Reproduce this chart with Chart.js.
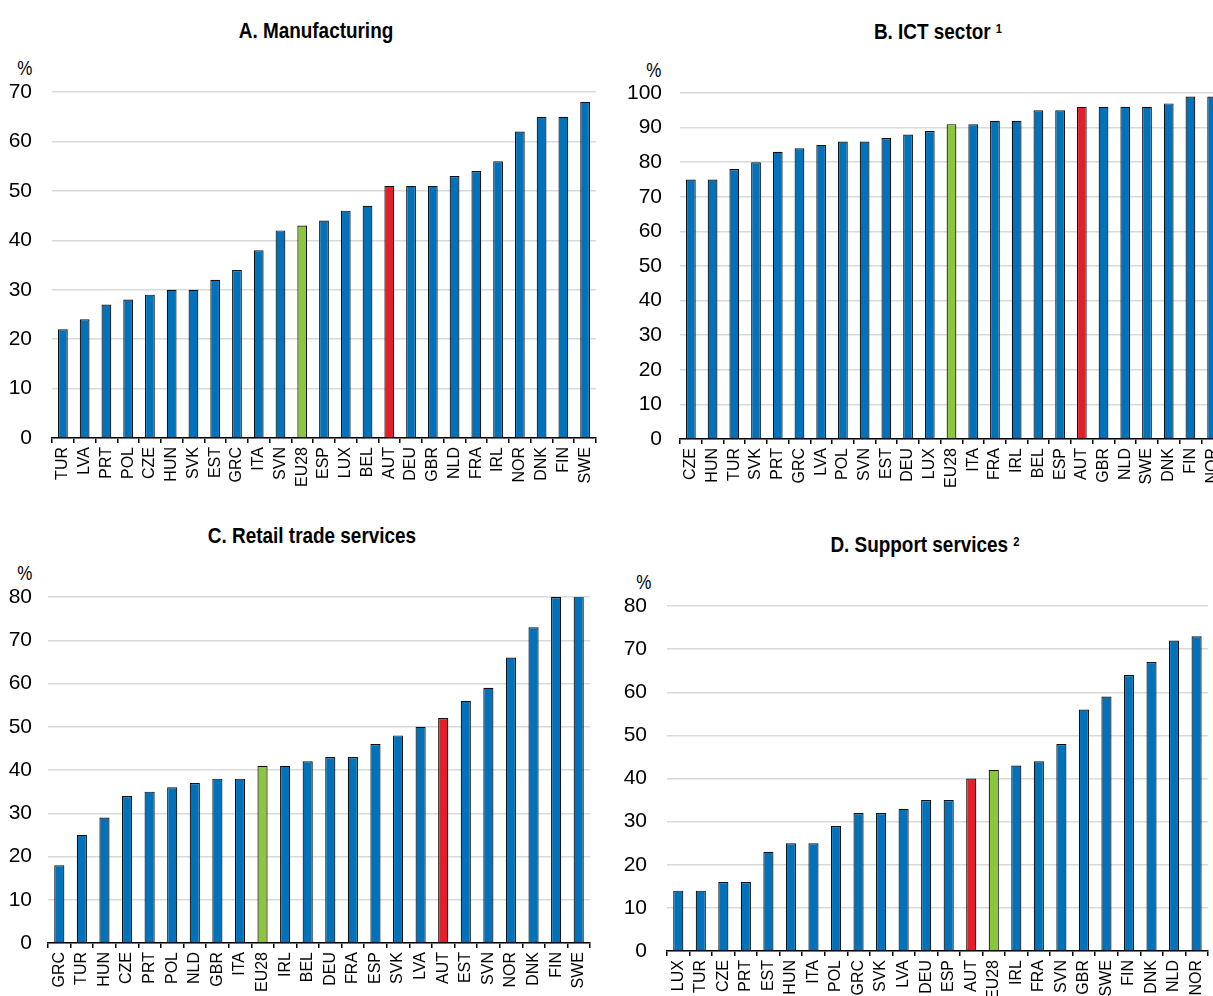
<!DOCTYPE html>
<html>
<head>
<meta charset="utf-8">
<script src="https://cdn.jsdelivr.net/npm/chart.js@4"></script>
<style>
  html, body { margin: 0; padding: 0; background: #fff; }
  body { width: 1213px; height: 996px; overflow: hidden; position: relative; }
  canvas { position: absolute; }
  .title { position: absolute; font-family: "Liberation Sans Narrow", "Liberation Sans", sans-serif; font-weight: bold; font-size: 22px; color: #000; text-align: center; width: 400px; line-height: 24px; white-space: nowrap; transform: scaleX(0.86); }
  .unit { position: absolute; font-family: "Liberation Sans", sans-serif; font-size: 20px; color: #000; line-height: 20px; transform: scaleX(0.85); }
  sup { font-size: 13px; position: relative; top: -6px; vertical-align: baseline; }
</style>
</head>
<body>
<div class="title" style="left:116px; top:19px;">A. Manufacturing</div>
<div class="title" style="left:738px; top:20px;">B. ICT sector <sup>1</sup></div>
<div class="title" style="left:112px; top:524px;">C. Retail trade services</div>
<div class="title" style="left:725px; top:533px;">D. Support services <sup>2</sup></div>
<div class="unit" style="left:16px; top:58px;">%</div>
<div class="unit" style="left:645px; top:60px;">%</div>
<div class="unit" style="left:16px; top:563px;">%</div>
<div class="unit" style="left:635px; top:572px;">%</div>

<canvas id="chartA" width="610" height="500" style="left:0; top:0;"></canvas>
<canvas id="chartB" width="640" height="500" style="left:610px; top:0;"></canvas>
<canvas id="chartC" width="610" height="520" style="left:0; top:500px;"></canvas>
<canvas id="chartD" width="610" height="520" style="left:610px; top:500px;"></canvas>

<script>
// Panel A. Manufacturing
const manufCountries = ['TUR','LVA','PRT','POL','CZE','HUN','SVK','EST','GRC','ITA','SVN','EU28','ESP','LUX','BEL','AUT','DEU','GBR','NLD','FRA','IRL','NOR','DNK','FIN','SWE'];
const manufValues = [22, 24, 27, 28, 29, 30, 30, 32, 34, 38, 42, 43, 44, 46, 47, 51, 51, 51, 53, 54, 56, 62, 65, 65, 68];
const manufTicks = [0, 10, 20, 30, 40, 50, 60, 70];

// Panel B. ICT sector
const ictCountries = ['CZE','HUN','TUR','SVK','PRT','GRC','LVA','POL','SVN','EST','DEU','LUX','EU28','ITA','FRA','IRL','BEL','ESP','AUT','GBR','NLD','SWE','DNK','FIN','NOR'];
const ictValues = [75, 75, 78, 80, 83, 84, 85, 86, 86, 87, 88, 89, 91, 91, 92, 92, 95, 95, 96, 96, 96, 96, 97, 99, 99];
const ictTicks = [0, 10, 20, 30, 40, 50, 60, 70, 80, 90, 100];

// Panel C. Retail trade services
const retailCountries = ['GRC','TUR','HUN','CZE','PRT','POL','NLD','GBR','ITA','EU28','IRL','BEL','DEU','FRA','ESP','SVK','LVA','AUT','EST','SVN','NOR','DNK','FIN','SWE'];
const retailValues = [18, 25, 29, 34, 35, 36, 37, 38, 38, 41, 41, 42, 43, 43, 46, 48, 50, 52, 56, 59, 66, 73, 80, 82];
const retailTicks = [0, 10, 20, 30, 40, 50, 60, 70, 80];

// Panel D. Support services
const supportCountries = ['LUX','TUR','CZE','PRT','EST','HUN','ITA','POL','GRC','SVK','LVA','DEU','ESP','AUT','EU28','IRL','FRA','SVN','GBR','SWE','FIN','DNK','NLD','NOR'];
const supportValues = [14, 14, 16, 16, 23, 25, 25, 29, 32, 32, 33, 35, 35, 40, 42, 43, 44, 48, 56, 59, 64, 67, 72, 73];
const supportTicks = [0, 10, 20, 30, 40, 50, 60, 70, 80];

const BLUE = '#0072BC';
const RED = '#E2202B';
const GREEN = '#8CC63F';

function barColour(label) {
    if (label === 'AUT') return RED;
    if (label === 'EU28') return GREEN;
    return BLUE;
}

// box = plot area inside the canvas: left, right, top, bottom, and where the y labels end
function makePanel(id, labels, values, ticks, box) {
    const canvas = document.getElementById(id);
    const w = canvas.width, h = canvas.height;
    new Chart(canvas.getContext('2d'), {
        type: 'bar',
        data: {
            labels: labels,
            datasets: [{
                data: values,
                backgroundColor: labels.map(barColour),
                borderColor: '#111',
                borderWidth: 1.2,
                borderSkipped: 'bottom',
                barPercentage: 0.45,
                categoryPercentage: 1
            }]
        },
        options: {
            responsive: false,
            animation: false,
            layout: { padding: { left: 0, top: box.top, right: w - box.right, bottom: 0 } },
            plugins: { legend: { display: false }, tooltip: { enabled: false } },
            scales: {
                x: {
                    grid: { display: true, drawOnChartArea: false, drawTicks: true, tickLength: 5, color: '#000', lineWidth: 1.5, offset: true },
                    border: { display: true, color: '#000', width: 1.5 },
                    ticks: {
                        autoSkip: false, maxRotation: 90, minRotation: 90, padding: 4,
                        color: '#000', font: { family: 'Liberation Sans, Arial, sans-serif', size: 16 }
                    },
                    afterFit: (scale) => { scale.height = h - box.bottom; }
                },
                y: {
                    min: ticks[0],
                    max: ticks[ticks.length - 1],
                    afterBuildTicks: (scale) => { scale.ticks = ticks.map(v => ({ value: v })); },
                    grid: { color: '#d9d9d9', lineWidth: 1.5, drawTicks: false },
                    border: { display: false },
                    ticks: {
                        padding: box.left - box.labelRight,
                        color: '#000', font: { family: 'Liberation Sans Narrow, Liberation Sans, sans-serif', size: 21 }
                    },
                    afterFit: (scale) => { scale.width = box.left; }
                }
            }
        }
    });
}

makePanel('chartA', manufCountries, manufValues, manufTicks, { left: 52, right: 596, top: 92, bottom: 438, labelRight: 32 });
makePanel('chartB', ictCountries, ictValues, ictTicks, { left: 70, right: 613, top: 93, bottom: 439, labelRight: 52 });
makePanel('chartC', retailCountries, retailValues, retailTicks, { left: 48, right: 590, top: 97, bottom: 443, labelRight: 32 });
makePanel('chartD', supportCountries, supportValues, supportTicks, { left: 57, right: 600, top: 106, bottom: 451, labelRight: 37 });
</script>
</body>
</html>
